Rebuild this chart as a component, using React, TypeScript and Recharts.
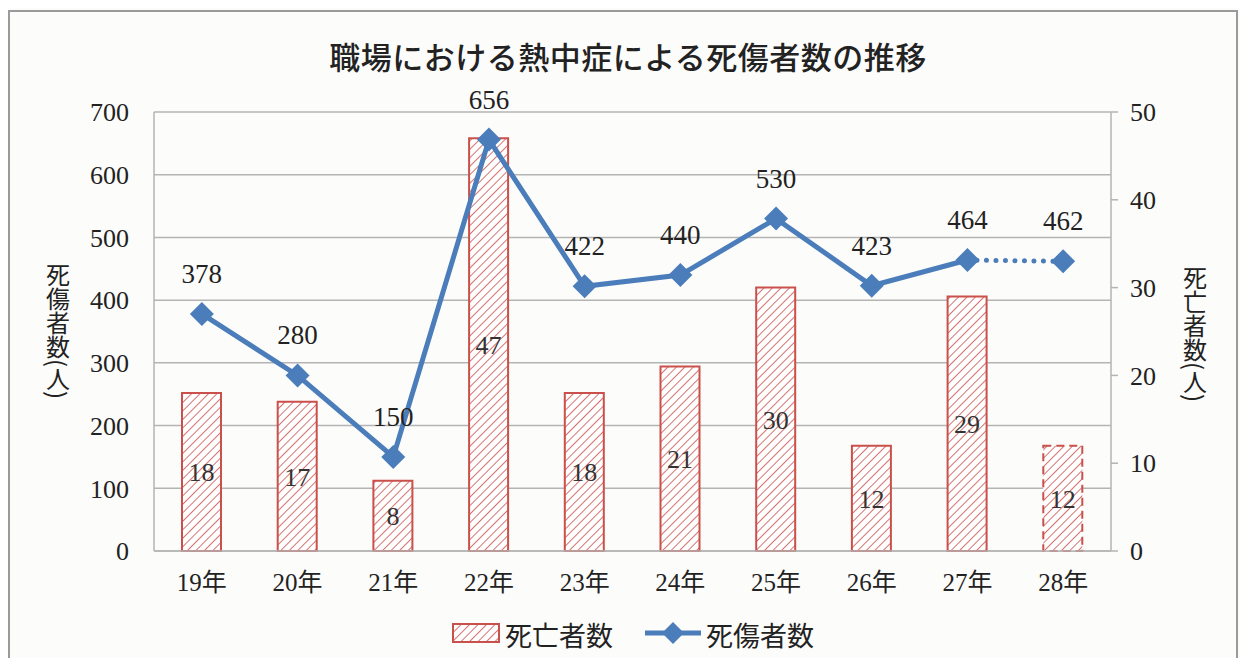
import React from 'react'
import { ComposedChart, Bar, Line, XAxis, YAxis, CartesianGrid, LabelList, Cell } from 'recharts'

const years = ['19年', '20年', '21年', '22年', '23年', '24年', '25年', '26年', '27年', '28年']
const deaths = [18, 17, 8, 47, 18, 21, 30, 12, 29, 12]
const casualties = [378, 280, 150, 656, 422, 440, 530, 423, 464, 462]
// the 28年 value is preliminary: drawn as a dotted segment and dashed bar
const finalCount = 9

const leftTicks = [0, 100, 200, 300, 400, 500, 600, 700]
const rightTicks = [0, 10, 20, 30, 40, 50]

const data = years.map((y, i) => ({
  year: y,
  deaths: deaths[i],
  casualties: i < finalCount ? casualties[i] : null,
  prelim: i >= finalCount - 1 ? casualties[i] : null,
}))

const RED = '#c9504b'
const BLUE = '#4a7dba'
const GRID = '#b4b4b4'
const FONT = '"Liberation Serif", "Noto Sans CJK JP", serif'

const Diamond = (props: any) => {
  const { cx, cy, value } = props
  if (value == null || cx == null) return null
  const r = 12
  return <path d={`M${cx},${cy - r}L${cx + r},${cy}L${cx},${cy + r}L${cx - r},${cy}Z`} fill={BLUE} />
}

const PrelimDot = (props: any) => {
  if (props.index !== finalCount) return null
  return <Diamond {...props} />
}

const lineLabel = (onlyIndex?: number) => (props: any) => {
  const { x, y, value, index } = props
  if (value == null) return null
  if (onlyIndex != null && index !== onlyIndex) return null
  return (
    <text x={x} y={y - 40} textAnchor="middle" dominantBaseline="central" fontSize={27} fill="#222" fontFamily={FONT}>
      {value}
    </text>
  )
}

const VerticalTitle = ({ x, y, text }: { x: number; y: number; text: string }) => (
  <text
    x={x}
    y={y}
    fontSize={24}
    fill="#222"
    fontFamily='"Noto Sans CJK JP", sans-serif'
    style={{ writingMode: 'vertical-rl' as any }}
    textAnchor="middle"
  >
    {text}
  </text>
)

export default function App() {
  return (
    <div style={{ position: 'relative', width: 1232, height: 650, background: '#fcfcfb' }}>
      <div style={{ position: 'absolute', left: 0, top: 2, width: 1230, height: 650, borderLeft: '2px solid #9a9a9a', borderTop: '2px solid #9a9a9a', borderRight: '2px solid #9a9a9a', boxSizing: 'border-box' }} />
      <div
        style={{
          position: 'absolute',
          top: 25,
          left: 0,
          width: 1240,
          textAlign: 'center',
          fontFamily: '"Noto Sans CJK JP", sans-serif',
          fontSize: 31,
          fontWeight: 500,
          color: '#222',
          letterSpacing: 0.5,
        }}
      >
        職場における熱中症による死傷者数の推移
      </div>
      <ComposedChart
        width={1232}
        height={650}
        data={data}
        margin={{ top: 104, right: 0, bottom: 0, left: 0 }}
        style={{ position: 'absolute', left: 0, top: 0 }}
      >
        <defs>
          <pattern id="hatch" patternUnits="userSpaceOnUse" width={6} height={6} patternTransform="rotate(45)">
            <rect width={6} height={6} fill="#fff" />
            <line x1={0} y1={0} x2={0} y2={6} stroke={RED} strokeWidth={1.6} />
          </pattern>
        </defs>
        <CartesianGrid yAxisId="left" vertical={false} stroke={GRID} strokeWidth={1.5} />
        <XAxis
          dataKey="year"
          height={107}
          tickLine={false}
          tickSize={0}
          tickMargin={22}
          axisLine={{ stroke: GRID, strokeWidth: 1.5 }}
          tick={{ fontSize: 25, fill: '#222', fontFamily: FONT }}
          interval={0}
        />
        <YAxis
          yAxisId="left"
          width={146}
          domain={[0, 700]}
          ticks={leftTicks}
          tickLine={false}
          tickSize={0}
          tickMargin={25}
          axisLine={{ stroke: GRID, strokeWidth: 1.5 }}
          tick={{ fontSize: 26, fill: '#222', fontFamily: FONT }}
          interval={0}
        />
        <YAxis
          yAxisId="right"
          orientation="right"
          width={129}
          domain={[0, 50]}
          ticks={rightTicks}
          tickSize={7}
          tickMargin={12}
          tickLine={{ stroke: GRID, strokeWidth: 1.5 }}
          axisLine={{ stroke: GRID, strokeWidth: 1.5 }}
          tick={{ fontSize: 26, fill: '#222', fontFamily: FONT }}
          interval={0}
        />
        <Bar yAxisId="right" dataKey="deaths" barSize={39} fill="url(#hatch)" stroke={RED} strokeWidth={2} isAnimationActive={false}>
          {data.map((d, i) => (
            <Cell key={d.year} strokeDasharray={i === finalCount ? '8 5' : undefined} />
          ))}
          <LabelList dataKey="deaths" position="center" fontSize={26} fill="#333" fontFamily={FONT} />
        </Bar>
        <Line
          yAxisId="left"
          dataKey="casualties"
          stroke={BLUE}
          strokeWidth={5}
          dot={<Diamond />}
          activeDot={false}
          isAnimationActive={false}
        >
          <LabelList dataKey="casualties" content={lineLabel()} />
        </Line>
        <Line
          yAxisId="left"
          dataKey="prelim"
          stroke={BLUE}
          strokeWidth={5}
          strokeDasharray="0 9.5"
          strokeLinecap="round"
          dot={<PrelimDot />}
          activeDot={false}
          isAnimationActive={false}
        >
          <LabelList dataKey="prelim" content={lineLabel(finalCount)} />
        </Line>
        <VerticalTitle x={50} y={323} text="死傷者数(人)" />
        <VerticalTitle x={1187} y={326} text="死亡者数(人)" />
      </ComposedChart>
      <svg width={400} height={40} style={{ position: 'absolute', left: 430, top: 605 }}>
        <defs>
          <pattern id="hatchLegend" patternUnits="userSpaceOnUse" width={6} height={6} patternTransform="rotate(45)">
            <rect width={6} height={6} fill="#fff" />
            <line x1={0} y1={0} x2={0} y2={6} stroke={RED} strokeWidth={1.6} />
          </pattern>
        </defs>
        <rect x={15} y={11} width={46} height={18} fill="url(#hatchLegend)" stroke={RED} strokeWidth={2} />
        <text x={67} y={21} dominantBaseline="central" fontSize={27} fill="#222" fontFamily='"Noto Sans CJK JP", sans-serif'>
          死亡者数
        </text>
        <line x1={207} y1={20} x2={263} y2={20} stroke={BLUE} strokeWidth={5} />
        <path d="M235,9L246,20L235,31L224,20Z" fill={BLUE} />
        <text x={268} y={21} dominantBaseline="central" fontSize={27} fill="#222" fontFamily='"Noto Sans CJK JP", sans-serif'>
          死傷者数
        </text>
      </svg>
    </div>
  )
}
